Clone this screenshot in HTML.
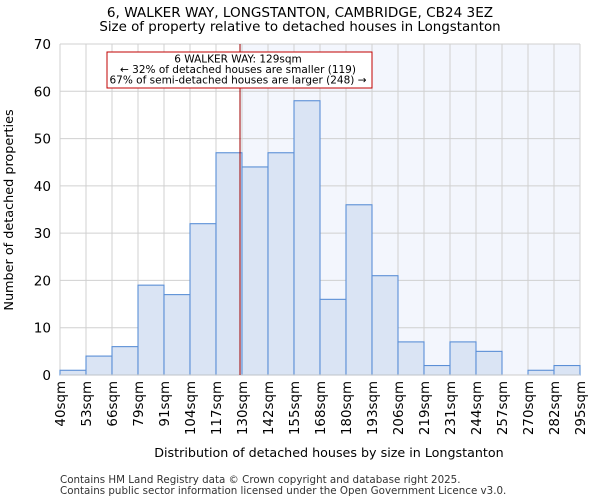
<!DOCTYPE html>
<html><head><meta charset="utf-8"><style>
body{margin:0;background:#fff;font-family:"DejaVu Sans","Liberation Sans",sans-serif;}
</style></head><body>
<svg width="600" height="500" xmlns="http://www.w3.org/2000/svg" font-family="DejaVu Sans, Liberation Sans, sans-serif">
<text x="300" y="17" text-anchor="middle" font-size="13.6">6, WALKER WAY, LONGSTANTON, CAMBRIDGE, CB24 3EZ</text>
<text x="300" y="31" text-anchor="middle" font-size="13.4">Size of property relative to detached houses in Longstanton</text>
<g id="plot"></g>
<text transform="translate(13,210) rotate(-90)" text-anchor="middle" font-size="12.8">Number of detached properties</text>
<text x="329" y="457" text-anchor="middle" font-size="12.7">Distribution of detached houses by size in Longstanton</text>
<text x="60" y="483" font-size="10.3" fill="#333">Contains HM Land Registry data © Crown copyright and database right 2025.</text>
<text x="60" y="494" font-size="10.3" fill="#333">Contains public sector information licensed under the Open Government Licence v3.0.</text>
</svg>
<script>
const binLabels=["40sqm","53sqm","66sqm","79sqm","91sqm","104sqm","117sqm","130sqm","142sqm","155sqm","168sqm","180sqm","193sqm","206sqm","219sqm","231sqm","244sqm","257sqm","270sqm","282sqm","295sqm"];
const binEdges=[40,53,66,79,91,104,117,130,142,155,168,180,193,206,219,231,244,257,270,282,295];
const counts=[1,4,6,19,17,32,47,44,47,58,16,36,21,7,2,7,5,0,1,2];
const yTicks=[0,10,20,30,40,50,60,70];
const propertySize=129;
const L=60,R=580,T=44,B=375,yMax=70;
const n=counts.length,bw=(R-L)/n;
const NS="http://www.w3.org/2000/svg";
const g=document.getElementById('plot');
function y(v){return B-(B-T)*v/yMax;}
function xi(i){return L+i*bw;}
function xs(s){for(let i=0;i<binEdges.length-1;i++){if(s>=binEdges[i]&&s<=binEdges[i+1])return xi(i)+bw*(s-binEdges[i])/(binEdges[i+1]-binEdges[i]);}return R;}
function mk(t,a){const e=document.createElementNS(NS,t);for(const k in a)e.setAttribute(k,a[k]);g.appendChild(e);return e;}
const px=xs(propertySize);
let e=mk('rect',{x:px,y:T,width:R-px,height:B-T,fill:'#f3f6fd'});


for(const t of yTicks){e=mk('line',{x1:L,x2:R,y1:y(t),y2:y(t),stroke:'#d0d0d0','stroke-width':1});


e=mk('text',{x:L-9,y:y(t)+5,'text-anchor':'end','font-size':13.6});e.textContent=t;

}
for(let i=0;i<=n;i++){e=mk('line',{x1:xi(i),x2:xi(i),y1:T,y2:B,stroke:'#d0d0d0','stroke-width':1});


e=mk('text',{transform:`translate(${xi(i)+5},381) rotate(-90)`,'text-anchor':'end','font-size':13.4});e.textContent=binLabels[i];

}
counts.forEach((c,i)=>{if(c<=0)return;e=mk('rect',{x:xi(i),y:y(c),width:bw,height:B-y(c),fill:'#dae4f4',stroke:'#5b8fd6','stroke-width':1.1});

});
e=mk('line',{x1:L,x2:R,y1:B,y2:B,stroke:'#ccc'});


e=mk('line',{x1:px,x2:px,y1:T,y2:B,stroke:'#a00000','stroke-width':1});


e=mk('rect',{x:107,y:52,width:265,height:36,fill:'#fff',stroke:'#c00000','stroke-width':1});


const lines=["6 WALKER WAY: 129sqm","← 32% of detached houses are smaller (119)","67% of semi-detached houses are larger (248) →"];
lines.forEach((s,k)=>{e=mk('text',{x:238,y:62.5+k*10.5,'text-anchor':'middle','font-size':10.5});e.textContent=s;

});
</script>
</body></html>
